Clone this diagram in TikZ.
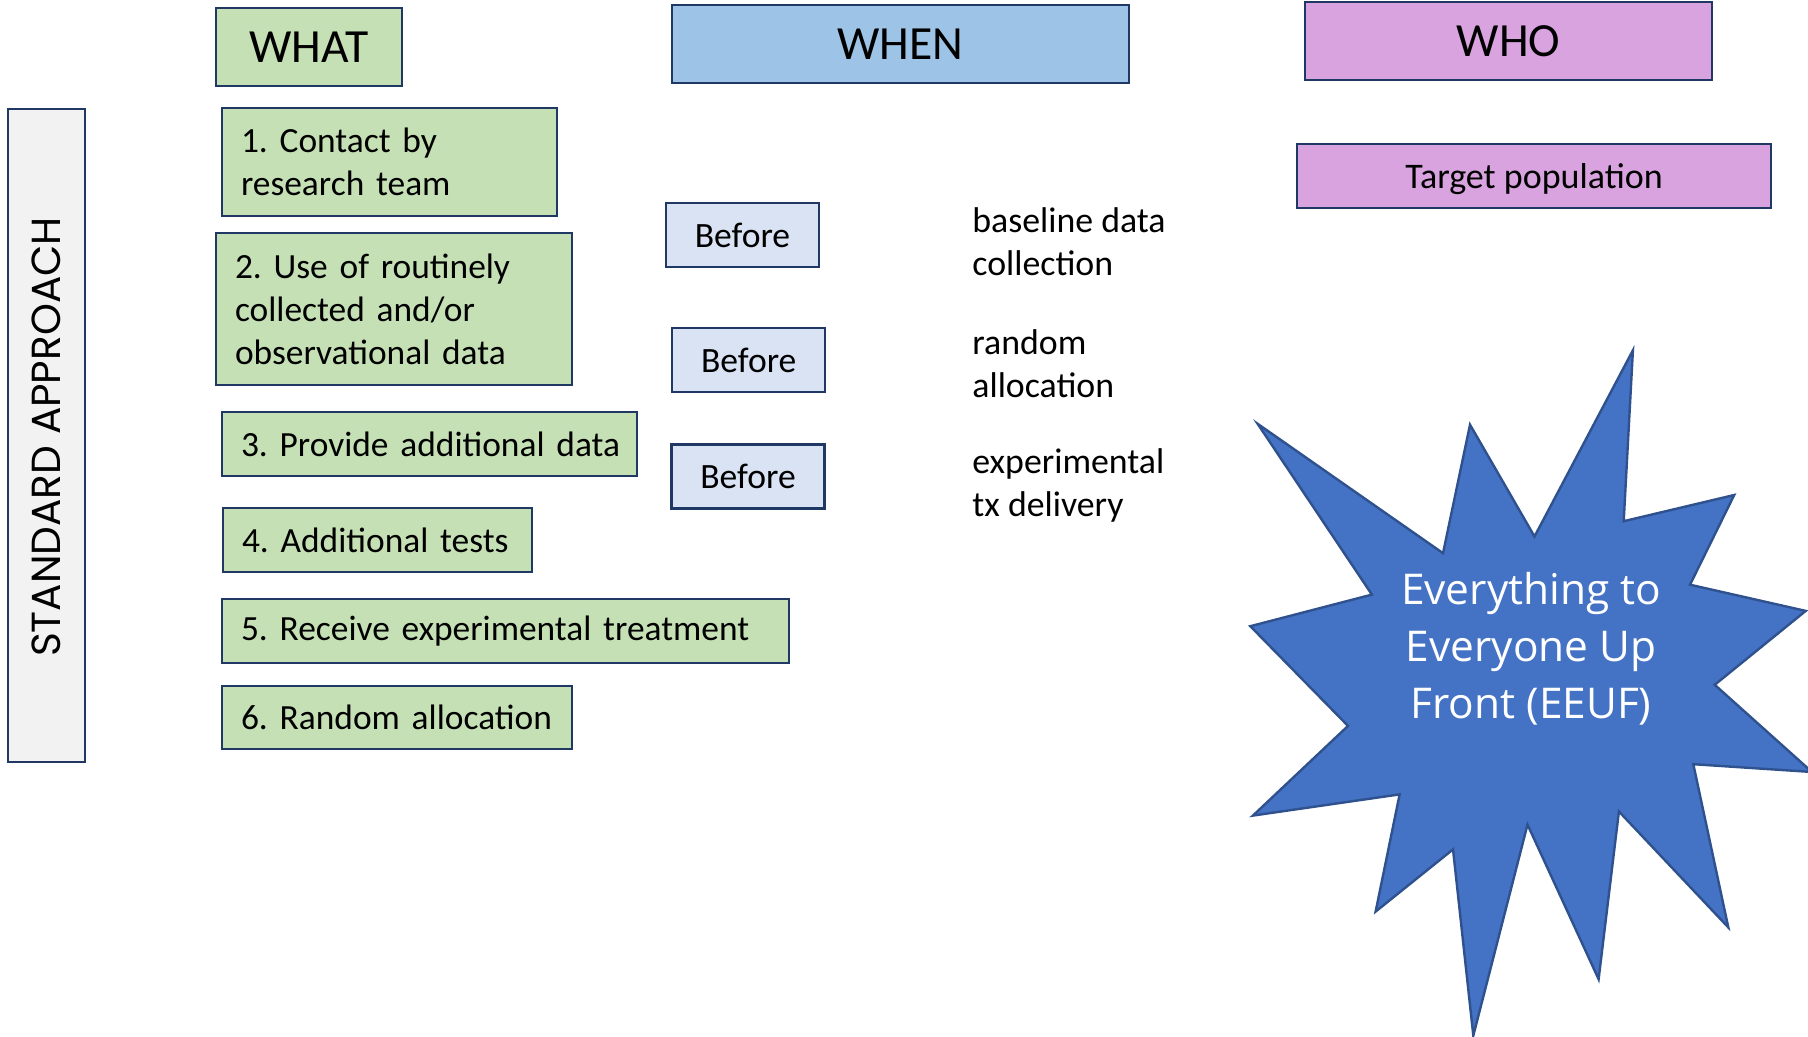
\documentclass[tikz,border=0pt]{standalone}
\usepackage{fontspec}
\setmainfont{Carlito}
\newfontfamily\starfont{Open Sans}
\newfontfamily\gothic{Poppins}
\definecolor{navy}{HTML}{1F3864}
\definecolor{greenfill}{HTML}{C5E0B4}
\definecolor{bluefill}{HTML}{9DC3E6}
\definecolor{paleblue}{HTML}{DAE3F3}
\definecolor{pinkfill}{HTML}{D8A3DF}
\definecolor{greyfill}{HTML}{F2F2F2}
\definecolor{starfill}{HTML}{4472C4}
\definecolor{starline}{HTML}{2F528F}
\frenchspacing
\begin{document}
\begin{tikzpicture}[x=0.5pt,y=-0.5pt,
  box/.style={draw=navy, line width=1.2pt, rectangle, inner sep=0pt},
  head/.style={box, font=\fontsize{23.8pt}{28pt}\selectfont},
  gbox/.style={box, fill=greenfill, align=left, inner xsep=9.5pt, inner ysep=0pt,
    font=\fontsize{17.7pt}{21.5pt}\selectfont},
  before/.style={box, fill=paleblue, minimum width=76.5pt, minimum height=32pt,
    font=\fontsize{17.8pt}{21.5pt}\selectfont},
  note/.style={anchor=west, align=left, inner sep=0pt,
    font=\fontsize{17.9pt}{21.5pt}\selectfont}]
\useasboundingbox (0,0) rectangle (1808,1037);

% headers
\node[head, fill=greenfill, minimum width=93pt, minimum height=39pt] (what) at (309,47) {WHAT};
\node[head, fill=bluefill, minimum width=228.5pt, minimum height=39pt] (when) at (900.5,44) {WHEN};
\node[head, fill=pinkfill, minimum width=203.5pt, minimum height=39pt] (who) at (1508.5,41) {WHO};
\node[box, fill=pinkfill, minimum width=237pt, minimum height=32pt, text depth=0pt,
  font=\fontsize{18pt}{21.5pt}\selectfont] (target) at (1534,176) {Target population};

% side label
\node[box, fill=greyfill, minimum width=38.5pt, minimum height=326.5pt] (std) at (46.5,435.5) {};
\node[rotate=90, font=\gothic\fontsize{20.3pt}{25pt}\selectfont] (stdtxt) at (46.5,437) {STANDARD APPROACH};

% what boxes
\node[gbox, text width=148.5pt, minimum height=54pt] (b1) at (389.5,162) {1. Contact by\\research team};
\node[gbox, text width=159pt, minimum height=76pt] (b2) at (394,309) {2. Use of routinely\\collected and/or\\observational data};
\node[gbox, text width=188.5pt, minimum height=32pt] (b3) at (429.5,444) {\mbox{3. Provide additional data}};
\node[gbox, text width=135.5pt, minimum height=32pt] (b4) at (377.5,540) {\mbox{4. Additional tests}};
\node[gbox, text width=264.5pt, minimum height=32pt] (b5) at (505.5,631) {\mbox{5. Receive experimental treatment}};
\node[gbox, text width=156pt, minimum height=31.5pt] (b6) at (397,717.5) {\mbox{6. Random allocation}};

% when boxes
\node[before] (bf1) at (742.5,235) {Before};
\node[before] (bf2) at (748.75,360) {Before};
\node[before] (bf3) at (748,476.5) {Before};

\node[note] (n1) at (972,242) {baseline data\\collection};
\node[note] (n2) at (972,363.5) {random\\allocation};
\node[note] (n3) at (972,485) {experimental\\tx delivery};

% star
\begin{scope}
\clip (0,0) rectangle (1808,1037);
\draw[fill=starfill, draw=starline, line width=1.2pt, line join=miter]
  (1257.6,423.8) -- (1371.9,594.6) -- (1250.3,626.2) -- (1348,725.9)
  -- (1252.9,815.6) -- (1399.6,794.4) -- (1375.6,911.6) -- (1453,849.4)
  -- (1473.3,1035.6) -- (1527.5,824.6) -- (1598.6,979.2) -- (1618.9,811.5)
  -- (1728.3,927.4) -- (1693.3,764.2) -- (1812,772) -- (1714.7,684.8)
  -- (1805.7,610.9) -- (1690,584.7) -- (1734.2,495) -- (1623.7,521.2)
  -- (1632.9,350.3) -- (1534.5,536.5) -- (1470,424.7) -- (1443,553.2) -- cycle;
\end{scope}
\node[align=center, text=white, font=\starfont\fontsize{21.2pt}{28.5pt}\selectfont] (eeuf) at (1531,649)
  {Everything to\\Everyone Up\\Front (EEUF)};
\end{tikzpicture}
\end{document}
